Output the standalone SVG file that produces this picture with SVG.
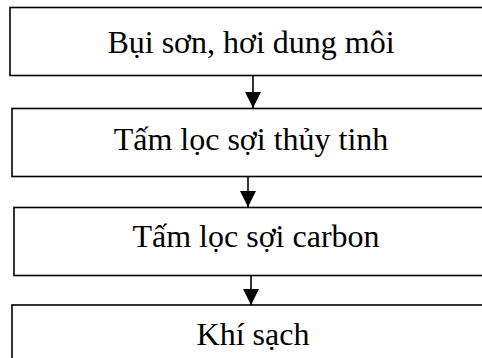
<svg xmlns="http://www.w3.org/2000/svg" width="482" height="358" viewBox="0 0 482 358">
  <style>
    .box { fill: #ffffff; stroke: #000000; stroke-width: 1.6; }
    .label { font-family: "Liberation Serif", "Times New Roman", serif; font-size: 32px; fill: #000000; text-anchor: middle; }
    .link { stroke: #000000; stroke-width: 1.6; fill: none; marker-end: url(#arrow); }
  </style>
  <defs>
    <marker id="arrow" markerUnits="userSpaceOnUse" markerWidth="16" markerHeight="17" refX="16" refY="8" orient="auto">
      <path d="M0,0 L16,8 L0,16 Z" fill="#000000"/>
    </marker>
  </defs>

  <rect width="482" height="358" fill="#ffffff"/>

  <g id="connectors">
    <line class="link" x1="253" y1="75.5" x2="253" y2="108"/>
    <line class="link" x1="248" y1="176.5" x2="248" y2="207"/>
    <line class="link" x1="251" y1="276" x2="251" y2="305"/>
  </g>

  <g id="node-dust">
    <rect class="box" x="10" y="7.5" width="500" height="68"/>
    <text class="label" x="251" y="53">Bụi sơn, hơi dung môi</text>
  </g>

  <g id="node-glass-fiber">
    <rect class="box" x="12" y="108.5" width="500" height="68"/>
    <text class="label" x="251" y="150">Tấm lọc sợi thủy tinh</text>
  </g>

  <g id="node-carbon-fiber">
    <rect class="box" x="14" y="207.5" width="500" height="68"/>
    <text class="label" x="256" y="247">Tấm lọc sợi carbon</text>
  </g>

  <g id="node-clean-air">
    <rect class="box" x="12" y="305" width="500" height="68"/>
    <text class="label" x="253" y="345">Khí sạch</text>
  </g>
</svg>
